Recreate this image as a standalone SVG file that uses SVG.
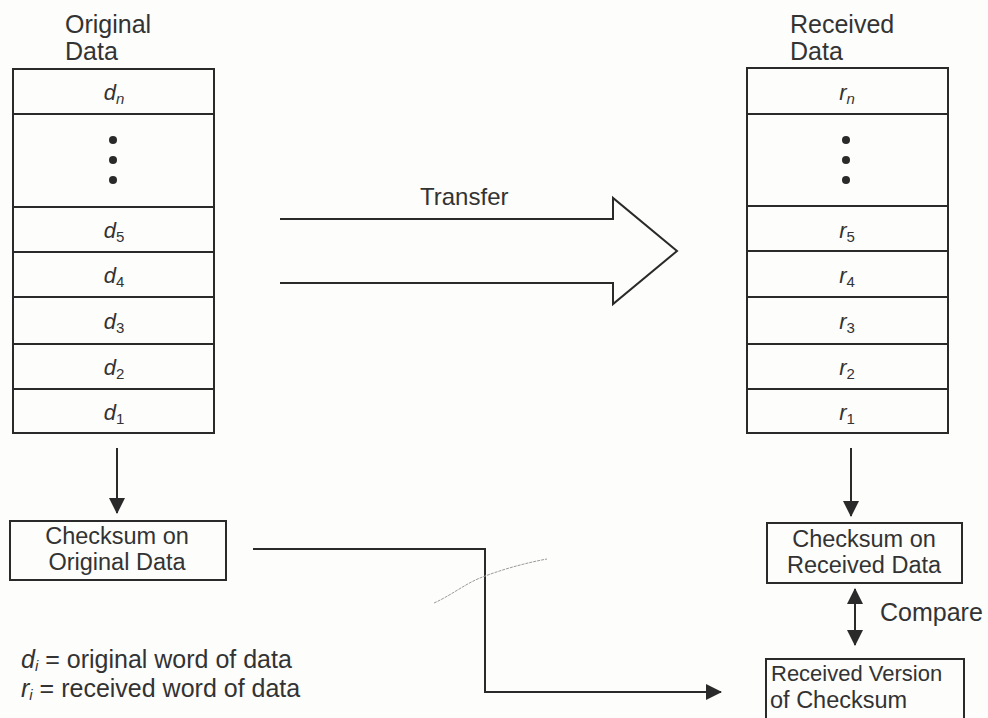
<svg xmlns="http://www.w3.org/2000/svg" width="988" height="718" viewBox="0 0 988 718">
  <style>
    .bg { fill: #fdfdfb; }
    .box { fill: none; stroke: #2a2a2a; stroke-width: 2; }
    .ln { fill: none; stroke: #2a2a2a; stroke-width: 2; }
    .lbl { font-family: "Liberation Sans", Arial, sans-serif; font-size: 25px; fill: #333; }
    .bt { font-family: "Liberation Sans", Arial, sans-serif; font-size: 23.5px; fill: #333; }
    .mid { text-anchor: middle; }
    .cell { font-family: "Liberation Sans", Arial, sans-serif; font-size: 22px; fill: #333; text-anchor: middle; }
    .it { font-style: italic; }
    .sub { font-size: 15px; }
    .dot { fill: #2a2a2a; }
  </style>
  <defs>
    <marker id="arr" viewBox="0 0 16 16" refX="15" refY="8" markerWidth="16" markerHeight="16" markerUnits="userSpaceOnUse" orient="auto-start-reverse">
      <path d="M0,0 L16,8 L0,16 Z" fill="#2a2a2a"/>
    </marker>
  </defs>

  <rect class="bg" x="0" y="0" width="988" height="718"/>

  <!-- original data word stack -->
  <g id="original-data">
    <text class="lbl" x="65" y="33">Original</text>
    <text class="lbl" x="65" y="60">Data</text>
    <rect class="box" x="13" y="69" width="201" height="364"/>
    <path class="ln" d="M13,114 H214 M13,207 H214 M13,252 H214 M13,297 H214 M13,344 H214 M13,389 H214"/>
    <text class="cell" x="114" y="100"><tspan class="it">d</tspan><tspan class="sub it" dy="4">n</tspan></text>
    <circle class="dot" cx="113" cy="140" r="4"/>
    <circle class="dot" cx="113" cy="160" r="4"/>
    <circle class="dot" cx="113" cy="180" r="4"/>
    <text class="cell" x="114" y="238"><tspan class="it">d</tspan><tspan class="sub" dy="4">5</tspan></text>
    <text class="cell" x="114" y="283"><tspan class="it">d</tspan><tspan class="sub" dy="4">4</tspan></text>
    <text class="cell" x="114" y="329"><tspan class="it">d</tspan><tspan class="sub" dy="4">3</tspan></text>
    <text class="cell" x="114" y="375"><tspan class="it">d</tspan><tspan class="sub" dy="4">2</tspan></text>
    <text class="cell" x="114" y="420"><tspan class="it">d</tspan><tspan class="sub" dy="4">1</tspan></text>
  </g>

  <!-- received data word stack -->
  <g id="received-data">
    <text class="lbl" x="790" y="33">Received</text>
    <text class="lbl" x="790" y="60">Data</text>
    <rect class="box" x="747" y="68" width="201" height="365"/>
    <path class="ln" d="M747,114 H948 M747,206 H948 M747,251 H948 M747,297 H948 M747,344 H948 M747,389 H948"/>
    <text class="cell" x="847" y="100"><tspan class="it">r</tspan><tspan class="sub it" dy="4">n</tspan></text>
    <circle class="dot" cx="846" cy="140" r="4"/>
    <circle class="dot" cx="846" cy="160" r="4"/>
    <circle class="dot" cx="846" cy="180" r="4"/>
    <text class="cell" x="847" y="238"><tspan class="it">r</tspan><tspan class="sub" dy="4">5</tspan></text>
    <text class="cell" x="847" y="283"><tspan class="it">r</tspan><tspan class="sub" dy="4">4</tspan></text>
    <text class="cell" x="847" y="329"><tspan class="it">r</tspan><tspan class="sub" dy="4">3</tspan></text>
    <text class="cell" x="847" y="375"><tspan class="it">r</tspan><tspan class="sub" dy="4">2</tspan></text>
    <text class="cell" x="847" y="420"><tspan class="it">r</tspan><tspan class="sub" dy="4">1</tspan></text>
  </g>

  <!-- checksum boxes -->
  <g id="checksum-original">
    <rect class="box" x="10" y="521" width="216" height="59"/>
    <text class="bt mid" x="117" y="544">Checksum on</text>
    <text class="bt mid" x="117" y="570">Original Data</text>
  </g>

  <g id="checksum-received">
    <rect class="box" x="767" y="523" width="195" height="60"/>
    <text class="bt mid" x="864" y="547">Checksum on</text>
    <text class="bt mid" x="864" y="573">Received Data</text>
  </g>

  <g id="received-checksum">
    <rect class="box" x="766" y="659" width="198" height="66"/>
    <text class="bt" x="771" y="681" style="font-size:22px">Received Version</text>
    <text class="bt" x="770" y="708">of Checksum</text>
  </g>

  <!-- legend -->
  <g id="legend">
    <text class="lbl" x="21" y="668"><tspan class="it">d</tspan><tspan class="sub it" dy="3">i</tspan><tspan dy="-3"> = original word of data</tspan></text>
    <text class="lbl" x="21" y="697"><tspan class="it">r</tspan><tspan class="sub it" dy="3">i</tspan><tspan dy="-3"> = received word of data</tspan></text>
  </g>

  <!-- connectors -->
  <g id="connectors">
    <!-- transfer arrow (open block arrow) -->
    <path class="ln" d="M280,219 H613 V198 L677,251 L613,304 V283 H280"/>
    <text class="lbl" x="420" y="205" style="font-size:24px">Transfer</text>

    <line class="ln" x1="117" y1="448" x2="117" y2="513" marker-end="url(#arr)"/>
    <line class="ln" x1="851" y1="448" x2="851" y2="516" marker-end="url(#arr)"/>

    <line class="ln" x1="855" y1="589" x2="855" y2="645" marker-start="url(#arr)" marker-end="url(#arr)"/>
    <text class="lbl" x="880" y="621">Compare</text>

    <path class="ln" d="M253,549 H485 V692 H721" marker-end="url(#arr)"/>

    <!-- faint pencil stroke -->
    <path d="M434,603 C450,596 465,584 480,578 C500,570 525,563 547,559" fill="none" stroke="#9a9a9a" stroke-width="1" stroke-dasharray="3 1"/>
  </g>
</svg>
